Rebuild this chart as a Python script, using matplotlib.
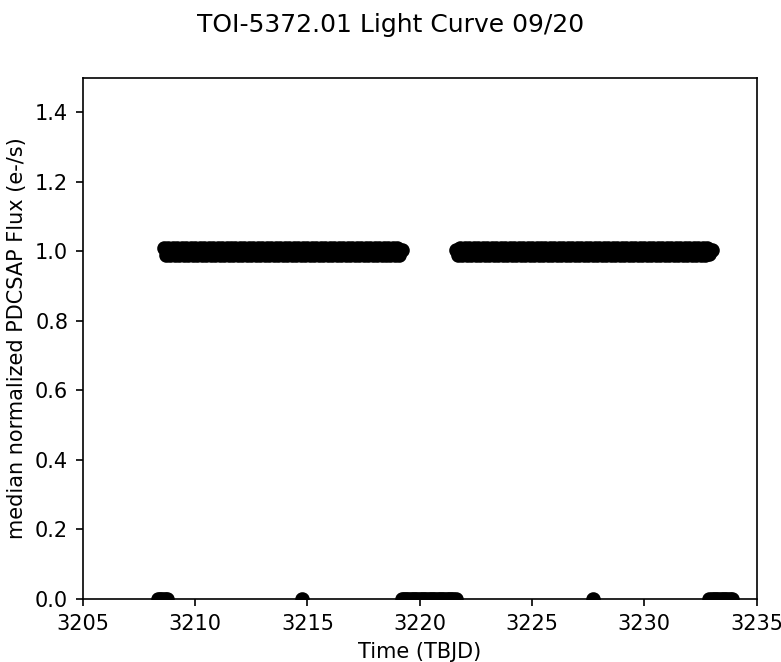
import matplotlib
matplotlib.use('Agg')
import matplotlib.pyplot as plt

#Light curve values (TBJD, median normalized flux)
time_seg1 = [3208.6, 3208.7, 3208.8, 3208.9, 3209.0, 3209.1, 3209.2, 3209.3, 3209.4, 3209.5,
             3209.6, 3209.7, 3209.8, 3209.9, 3210.0, 3210.1, 3210.2, 3210.3, 3210.4, 3210.5,
             3210.6, 3210.7, 3210.8, 3210.9, 3211.0, 3211.1, 3211.2, 3211.3, 3211.4, 3211.5,
             3211.6, 3211.7, 3211.8, 3211.9, 3212.0, 3212.1, 3212.2, 3212.3, 3212.4, 3212.5,
             3212.6, 3212.7, 3212.8, 3212.9, 3213.0, 3213.1, 3213.2, 3213.3, 3213.4, 3213.5,
             3213.6, 3213.7, 3213.8, 3213.9, 3214.0, 3214.1, 3214.2, 3214.3, 3214.4, 3214.5,
             3214.6, 3214.7, 3214.8, 3214.9, 3215.0, 3215.1, 3215.2, 3215.3, 3215.4, 3215.5,
             3215.6, 3215.7, 3215.8, 3215.9, 3216.0, 3216.1, 3216.2, 3216.3, 3216.4, 3216.5,
             3216.6, 3216.7, 3216.8, 3216.9, 3217.0, 3217.1, 3217.2, 3217.3, 3217.4, 3217.5,
             3217.6, 3217.7, 3217.8, 3217.9, 3218.0, 3218.1, 3218.2, 3218.3, 3218.4, 3218.5,
             3218.6, 3218.7, 3218.8, 3218.9, 3219.0, 3219.1, 3219.2]
flux_seg1 = [1.010, 0.990, 1.009, 0.991, 1.011, 0.989, 1.010, 0.990, 1.009, 0.991,
             1.011, 0.990, 1.010, 0.989, 1.009, 0.990, 1.011, 0.991, 1.010, 0.990,
             1.009, 0.991, 1.010, 0.990, 1.011, 0.989, 1.009, 0.990, 1.010, 0.991,
             1.010, 0.990, 1.009, 0.991, 1.011, 0.989, 1.010, 0.990, 1.009, 0.991,
             1.011, 0.990, 1.010, 0.989, 1.009, 0.990, 1.011, 0.991, 1.010, 0.990,
             1.009, 0.991, 1.010, 0.990, 1.011, 0.989, 1.009, 0.990, 1.010, 0.991,
             1.010, 0.990, 1.009, 0.991, 1.011, 0.989, 1.010, 0.990, 1.009, 0.991,
             1.011, 0.990, 1.010, 0.989, 1.009, 0.990, 1.011, 0.991, 1.010, 0.990,
             1.009, 0.991, 1.010, 0.990, 1.011, 0.989, 1.009, 0.990, 1.010, 0.991,
             1.010, 0.990, 1.009, 0.991, 1.011, 0.989, 1.010, 0.990, 1.009, 0.991,
             1.011, 0.990, 1.010, 0.989, 1.009, 0.991, 1.005]

time_seg2 = [3221.6, 3221.7, 3221.8, 3221.9, 3222.0, 3222.1, 3222.2, 3222.3, 3222.4, 3222.5,
             3222.6, 3222.7, 3222.8, 3222.9, 3223.0, 3223.1, 3223.2, 3223.3, 3223.4, 3223.5,
             3223.6, 3223.7, 3223.8, 3223.9, 3224.0, 3224.1, 3224.2, 3224.3, 3224.4, 3224.5,
             3224.6, 3224.7, 3224.8, 3224.9, 3225.0, 3225.1, 3225.2, 3225.3, 3225.4, 3225.5,
             3225.6, 3225.7, 3225.8, 3225.9, 3226.0, 3226.1, 3226.2, 3226.3, 3226.4, 3226.5,
             3226.6, 3226.7, 3226.8, 3226.9, 3227.0, 3227.1, 3227.2, 3227.3, 3227.4, 3227.5,
             3227.6, 3227.7, 3227.8, 3227.9, 3228.0, 3228.1, 3228.2, 3228.3, 3228.4, 3228.5,
             3228.6, 3228.7, 3228.8, 3228.9, 3229.0, 3229.1, 3229.2, 3229.3, 3229.4, 3229.5,
             3229.6, 3229.7, 3229.8, 3229.9, 3230.0, 3230.1, 3230.2, 3230.3, 3230.4, 3230.5,
             3230.6, 3230.7, 3230.8, 3230.9, 3231.0, 3231.1, 3231.2, 3231.3, 3231.4, 3231.5,
             3231.6, 3231.7, 3231.8, 3231.9, 3232.0, 3232.1, 3232.2, 3232.3, 3232.4, 3232.5,
             3232.6, 3232.7, 3232.8, 3232.9, 3233.0]
flux_seg2 = [1.005, 0.990, 1.009, 0.991, 1.010, 0.990, 1.009, 0.989, 1.010, 0.991,
             1.009, 0.990, 1.010, 0.991, 1.009, 0.989, 1.010, 0.990, 1.009, 0.991,
             1.010, 0.990, 1.009, 0.991, 1.010, 0.989, 1.009, 0.990, 1.010, 0.991,
             1.009, 0.990, 1.010, 0.991, 1.009, 0.989, 1.010, 0.990, 1.009, 0.991,
             1.010, 0.990, 1.011, 0.991, 1.010, 0.989, 1.009, 0.990, 1.010, 0.991,
             1.011, 0.990, 1.010, 0.991, 1.011, 0.989, 1.010, 0.990, 1.011, 0.991,
             1.010, 0.990, 1.011, 0.991, 1.010, 0.989, 1.010, 0.990, 1.009, 0.991,
             1.010, 0.990, 1.009, 0.991, 1.010, 0.989, 1.009, 0.990, 1.010, 0.991,
             1.009, 0.990, 1.010, 0.991, 1.009, 0.989, 1.010, 0.990, 1.009, 0.991,
             1.010, 0.990, 1.009, 0.991, 1.010, 0.989, 1.009, 0.990, 1.010, 0.991,
             1.009, 0.990, 1.010, 0.991, 1.009, 0.989, 1.010, 0.990, 1.009, 0.991,
             1.010, 0.991, 1.009, 0.992, 1.005]

#Flagged cadences that came out as zero flux
time_zero = [3208.35, 3208.45, 3208.55, 3208.65, 3208.75, 3214.74,
             3219.2, 3219.3, 3219.4, 3219.5, 3219.6, 3219.7, 3219.8, 3219.9, 3220.0, 3220.1,
             3220.2, 3220.3, 3220.4, 3220.5, 3220.6, 3220.7, 3220.8, 3220.9, 3221.0, 3221.1,
             3221.2, 3221.3, 3221.4, 3221.5, 3221.6, 3227.71,
             3232.9, 3233.0, 3233.1, 3233.2, 3233.3, 3233.4, 3233.5, 3233.6, 3233.7, 3233.8,
             3233.9]
flux_zero = [0.0] * len(time_zero)

fig = plt.figure(figsize=(782 / 150, 662 / 150), dpi=150)
ax = fig.add_axes([0.1058, 0.0952, 0.8618, 0.7874])

ax.scatter(time_seg1, flux_seg1, color='black')
ax.scatter(time_seg2, flux_seg2, color='black')
ax.scatter(time_zero, flux_zero, color='black')

ax.set_xlim(3205, 3235)
ax.set_ylim(0, 1.5)
ax.set_xticks([3205, 3210, 3215, 3220, 3225, 3230, 3235])
ax.set_yticks([0.0, 0.2, 0.4, 0.6, 0.8, 1.0, 1.2, 1.4])

ax.set_xlabel('Time (TBJD)')
ax.set_ylabel('median normalized PDCSAP Flux (e-/s)')
fig.suptitle('TOI-5372.01 Light Curve 09/20')

fig.savefig('out.png', dpi=150)
